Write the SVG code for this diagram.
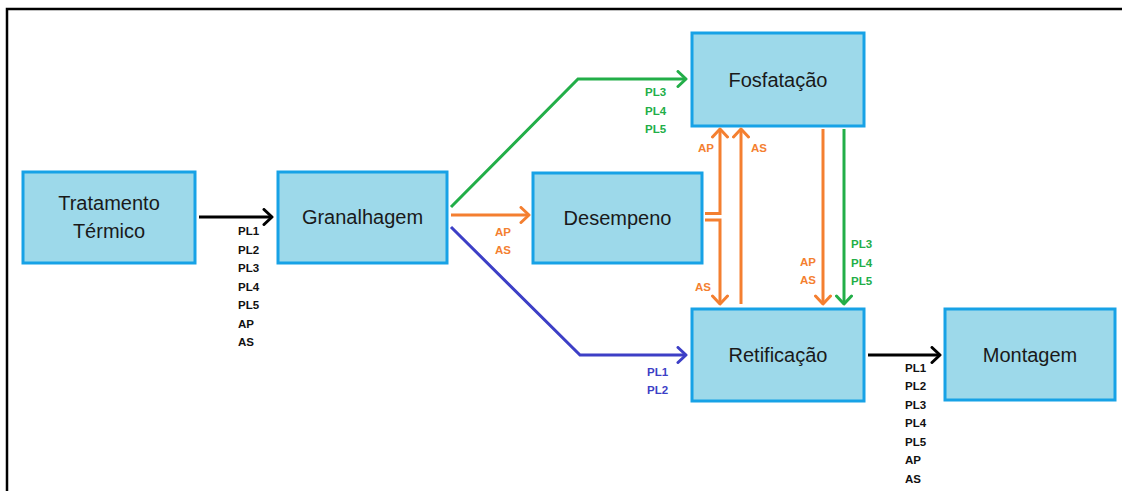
<svg xmlns="http://www.w3.org/2000/svg" width="1122" height="491" viewBox="0 0 1122 491">
  <style>
    .box { fill: #9dd9ea; stroke: #17a2e6; stroke-width: 3; }
    .name { font-family: "Liberation Sans", Arial, sans-serif; font-size: 20px; fill: #1a1a1a; text-anchor: middle; }
    .tag { font-family: "Liberation Sans", Arial, sans-serif; font-size: 11.5px; font-weight: bold; }
    .k { fill: #111111; }
    .o { fill: #f47f30; }
    .g { fill: #22ae48; }
    .b { fill: #3d3fc6; }
    .line { fill: none; stroke-width: 3; stroke-linejoin: miter; }
    .lk { stroke: #000000; marker-end: url(#ak); }
    .lo { stroke: #f47f30; marker-end: url(#ao); }
    .lg { stroke: #22ae48; marker-end: url(#ag); }
    .lb { stroke: #3d3fc6; marker-end: url(#ab); }
  </style>
  <defs>
    <marker id="ak" markerUnits="userSpaceOnUse" markerWidth="14" markerHeight="18" viewBox="0 0 14 18" refX="11" refY="9" orient="auto">
      <path d="M3,1.5 L11,9 L3,16.5" fill="none" stroke="#000000" stroke-width="3" stroke-linecap="round" stroke-linejoin="round"/>
    </marker>
    <marker id="ao" markerUnits="userSpaceOnUse" markerWidth="14" markerHeight="18" viewBox="0 0 14 18" refX="11" refY="9" orient="auto">
      <path d="M3,1.5 L11,9 L3,16.5" fill="none" stroke="#f47f30" stroke-width="3" stroke-linecap="round" stroke-linejoin="round"/>
    </marker>
    <marker id="ag" markerUnits="userSpaceOnUse" markerWidth="14" markerHeight="18" viewBox="0 0 14 18" refX="11" refY="9" orient="auto">
      <path d="M3,1.5 L11,9 L3,16.5" fill="none" stroke="#22ae48" stroke-width="3" stroke-linecap="round" stroke-linejoin="round"/>
    </marker>
    <marker id="ab" markerUnits="userSpaceOnUse" markerWidth="14" markerHeight="18" viewBox="0 0 14 18" refX="11" refY="9" orient="auto">
      <path d="M3,1.5 L11,9 L3,16.5" fill="none" stroke="#3d3fc6" stroke-width="3" stroke-linecap="round" stroke-linejoin="round"/>
    </marker>
  </defs>

  <rect x="0" y="0" width="1122" height="491" fill="#ffffff"/>
  <!-- frame: top and left edges -->
  <path d="M7,491 V9 H1122" fill="none" stroke="#000000" stroke-width="2.5"/>

  <g id="tratamento">
    <rect class="box" x="23" y="172" width="172" height="91"/>
    <text class="name" x="109" y="210">Tratamento</text>
    <text class="name" x="109" y="238">Térmico</text>
  </g>
  <g id="granalhagem">
    <rect class="box" x="278" y="172" width="169" height="91"/>
    <text class="name" x="362.5" y="224">Granalhagem</text>
  </g>
  <g id="desempeno">
    <rect class="box" x="533" y="173" width="169" height="90"/>
    <text class="name" x="617.5" y="225">Desempeno</text>
  </g>
  <g id="fosfatacao">
    <rect class="box" x="692" y="33" width="172" height="93"/>
    <text class="name" x="778" y="87">Fosfatação</text>
  </g>
  <g id="retificacao">
    <rect class="box" x="692" y="309" width="172" height="92"/>
    <text class="name" x="778" y="362">Retificação</text>
  </g>
  <g id="montagem">
    <rect class="box" x="945" y="309" width="170" height="91"/>
    <text class="name" x="1030" y="362">Montagem</text>
  </g>

  <g id="connectors">
    <path class="line lk" d="M199,217 H272"/>
    <path class="line lk" d="M868,355 H940"/>
    <path class="line lo" d="M451,215 H529"/>
    <path class="line lg" d="M451,207 L578,79 H686"/>
    <path class="line lb" d="M451,227 L580,355 H686"/>
    <path class="line lo" d="M705,213.5 H720 V129"/>
    <path class="line lo" d="M705,220 H720 V304"/>
    <path class="line lo" d="M741,304 V129"/>
    <path class="line lo" d="M823,129 V304"/>
    <path class="line lg" d="M844,129 V304"/>
  </g>

  <g id="labels" class="tag">
    <text class="k" x="238" y="235">PL1</text>
    <text class="k" x="238" y="253.5">PL2</text>
    <text class="k" x="238" y="272">PL3</text>
    <text class="k" x="238" y="290.5">PL4</text>
    <text class="k" x="238" y="309">PL5</text>
    <text class="k" x="238" y="327.5">AP</text>
    <text class="k" x="238" y="346">AS</text>

    <text class="k" x="905" y="371.5">PL1</text>
    <text class="k" x="905" y="390">PL2</text>
    <text class="k" x="905" y="408.5">PL3</text>
    <text class="k" x="905" y="427">PL4</text>
    <text class="k" x="905" y="445.5">PL5</text>
    <text class="k" x="905" y="464">AP</text>
    <text class="k" x="905" y="482.5">AS</text>

    <text class="o" x="495" y="235.5">AP</text>
    <text class="o" x="495" y="253.5">AS</text>

    <text class="g" x="645" y="96">PL3</text>
    <text class="g" x="645" y="114.5">PL4</text>
    <text class="g" x="645" y="133">PL5</text>

    <text class="b" x="647" y="375.5">PL1</text>
    <text class="b" x="647" y="394">PL2</text>

    <text class="o" x="698" y="152">AP</text>
    <text class="o" x="751" y="152">AS</text>
    <text class="o" x="695" y="291">AS</text>

    <text class="o" x="800" y="266">AP</text>
    <text class="o" x="800" y="284">AS</text>

    <text class="g" x="851" y="248">PL3</text>
    <text class="g" x="851" y="266.5">PL4</text>
    <text class="g" x="851" y="285">PL5</text>
  </g>
</svg>
